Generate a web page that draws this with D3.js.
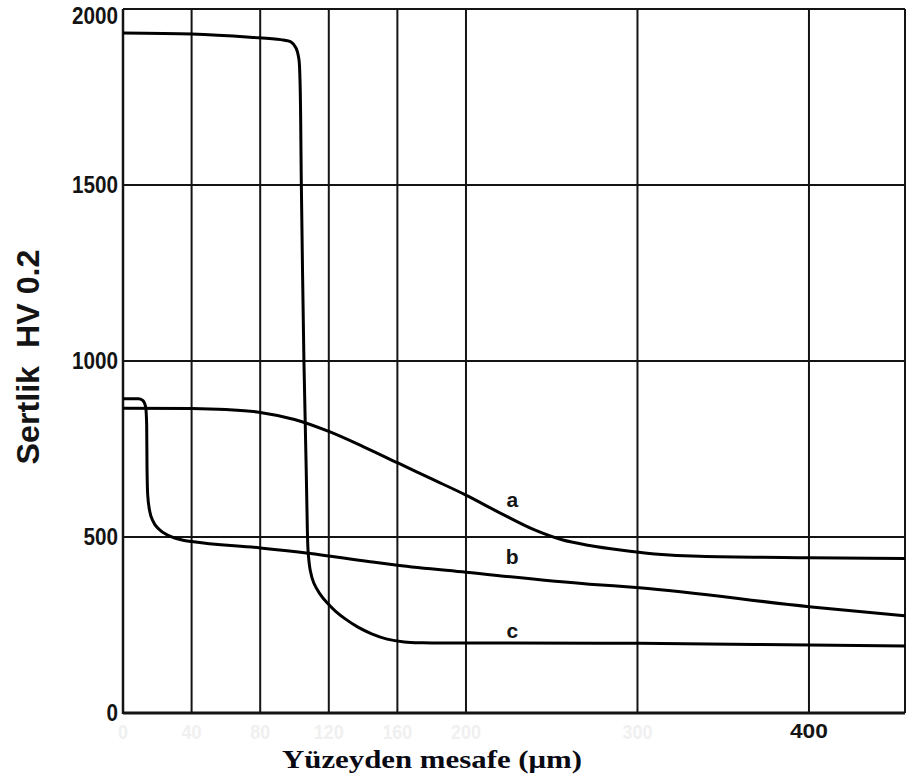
<!DOCTYPE html>
<html>
<head>
<meta charset="utf-8">
<script src="https://cdn.jsdelivr.net/npm/d3@7"></script>
<style>
  body { margin: 0; background: #fff; }
  svg { display: block; }
</style>
</head>
<body>
<svg></svg>
<script>
// distance from surface (um) -> hardness HV0.2
const curveA = [
  [0, 866], [40, 865], [60, 862], [80, 854], [100, 834], [120, 800],
  [140, 757], [160, 711], [180, 665], [200, 619], [220, 568], [240, 520],
  [256, 492], [272, 476], [290, 463], [310, 452], [336, 445], [400, 441],
  [456, 439]
];
const curveB = [
  [0, 893], [9, 893], [11.5, 888], [13.2, 870], [13.8, 820], [14, 700],
  [14.4, 620], [15.5, 575], [17.5, 545], [21, 522], [27, 503], [35, 491],
  [40, 487], [80, 469], [108, 454], [144, 430], [160, 420], [200, 400],
  [272, 366], [301, 356], [400, 302], [456, 276]
];
const curveC = [
  [0, 1932], [40, 1929], [74, 1920], [92, 1913], [98, 1906], [100.8, 1890],
  [102.5, 1860], [103.2, 1800], [104, 1500], [105.5, 1000], [106.8, 700],
  [107.5, 520], [108, 455], [109.2, 405], [111.2, 370], [114.6, 340],
  [119, 313], [124, 289], [130, 266], [137, 244], [145, 225], [154, 210],
  [164, 202], [175, 199.5], [200, 199], [301, 198], [456, 190]
];
const curveNames = ['a', 'b', 'c'];
const labelPos = [[227, 605], [227, 443], [227, 235]];

const yTicks = [0, 500, 1000, 1500, 2000];
const xGrid = [40, 80, 120, 160, 200, 300, 400];
const xFaded = [0, 40, 80, 120, 160, 200, 300];

const width = 906;
const height = 780;

const svg = d3.select('svg')
    .attr('width', width)
    .attr('height', height);

const x = d3.scaleLinear().domain([0, 456]).range([123, 905]);
const y = d3.scaleLinear().domain([0, 2000]).range([713, 9]);

const ink = '#141414';
const narrow = 'Liberation Sans, Arial, sans-serif';

// grid
svg.append('g').selectAll('line').data(yTicks.filter(d => d > 0))
    .enter().append('line')
    .attr('x1', x(0)).attr('x2', x(456))
    .attr('y1', d => y(d)).attr('y2', d => y(d))
    .attr('stroke', ink).attr('stroke-width', 2);

svg.append('g').selectAll('line').data(xGrid)
    .enter().append('line')
    .attr('x1', d => x(d)).attr('x2', d => x(d))
    .attr('y1', y(0)).attr('y2', y(2000))
    .attr('stroke', ink).attr('stroke-width', 2);

// frame
svg.append('line')
    .attr('x1', x(0)).attr('x2', x(0)).attr('y1', y(0) + 1).attr('y2', y(2000))
    .attr('stroke', ink).attr('stroke-width', 2.5);
svg.append('line')
    .attr('x1', x(456)).attr('x2', x(456)).attr('y1', y(0)).attr('y2', y(2000))
    .attr('stroke', ink).attr('stroke-width', 2);
svg.append('line')
    .attr('x1', x(0)).attr('x2', x(456)).attr('y1', y(0)).attr('y2', y(0))
    .attr('stroke', ink).attr('stroke-width', 3);

// curves
const line = d3.line()
    .x(d => x(d[0]))
    .y(d => y(d[1]))
    .curve(d3.curveMonotoneX);
const roundLine = d3.line()
    .x(d => x(d[0]))
    .y(d => y(d[1]))
    .curve(d3.curveCatmullRom.alpha(0.5));

svg.append('g').selectAll('path').data([curveA, curveB, curveC])
    .enter().append('path')
    .attr('d', (d, i) => i === 2 ? roundLine(d) : line(d))
    .attr('fill', 'none')
    .attr('stroke', '#000')
    .attr('stroke-width', 3)
    .attr('stroke-linejoin', 'round');

svg.append('g').selectAll('text').data(curveNames)
    .enter().append('text')
    .attr('x', (d, i) => x(labelPos[i][0]))
    .attr('y', (d, i) => y(labelPos[i][1]))
    .attr('dy', '.35em')
    .attr('text-anchor', 'middle')
    .attr('font-family', narrow)
    .attr('font-weight', 'bold')
    .attr('font-size', 21)
    .attr('fill', ink)
    .text(d => d);

// y tick labels, squeezed to look like a narrow face
svg.append('g').selectAll('text').data(yTicks)
    .enter().append('text')
    .attr('x', 118)
    .attr('y', d => d === 2000 ? y(d) + 7 : y(d))
    .attr('dy', '.36em')
    .attr('text-anchor', 'end')
    .attr('font-family', narrow)
    .attr('font-weight', 'bold')
    .attr('font-size', 23)
    .attr('textLength', d => String(d).length * 11.5)
    .attr('lengthAdjust', 'spacingAndGlyphs')
    .attr('fill', ink)
    .text(d => d);

// x tick labels (faded in the source, only 400 is legible)
svg.append('g').selectAll('text').data(xFaded)
    .enter().append('text')
    .attr('x', d => x(d))
    .attr('y', 739)
    .attr('text-anchor', 'middle')
    .attr('font-family', narrow)
    .attr('font-weight', 'bold')
    .attr('font-size', 20)
    .attr('textLength', d => String(d).length * 10)
    .attr('lengthAdjust', 'spacingAndGlyphs')
    .attr('fill', '#f0f0f0')
    .text(d => d);

svg.append('text')
    .attr('x', x(400))
    .attr('y', 738)
    .attr('text-anchor', 'middle')
    .attr('font-family', narrow)
    .attr('font-weight', 'bold')
    .attr('font-size', 21)
    .attr('textLength', 38)
    .attr('lengthAdjust', 'spacingAndGlyphs')
    .attr('fill', ink)
    .text('400');

// axis titles
svg.append('text')
    .attr('transform', 'translate(39, 357) rotate(-90)')
    .attr('text-anchor', 'middle')
    .attr('font-family', narrow)
    .attr('font-weight', 'bold')
    .attr('font-size', 31)
    .attr('textLength', 215)
    .attr('lengthAdjust', 'spacingAndGlyphs')
    .style('white-space', 'pre')
    .attr('fill', ink)
    .text('Sertlik  HV 0.2');

svg.append('text')
    .attr('x', 432)
    .attr('y', 768)
    .attr('text-anchor', 'middle')
    .attr('font-family', 'Liberation Serif, Times New Roman, serif')
    .attr('font-weight', 'bold')
    .attr('font-size', 25)
    .attr('textLength', 300)
    .attr('lengthAdjust', 'spacingAndGlyphs')
    .attr('fill', '#0a0a14')
    .text('Yüzeyden mesafe (μm)');
</script>
</body>
</html>
